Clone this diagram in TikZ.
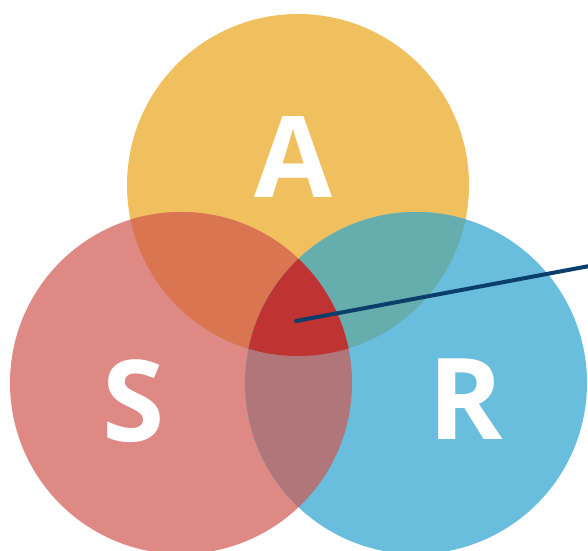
\documentclass[tikz,border=0pt]{standalone}
\usepackage{fontspec}
\setmainfont{Open Sans}
\definecolor{cA}{HTML}{EFC05D}
\definecolor{cS}{HTML}{DE8983}
\definecolor{cR}{HTML}{6ABEDD}
\definecolor{cAS}{HTML}{D97651}
\definecolor{cAR}{HTML}{66ADAE}
\definecolor{cSR}{HTML}{B07679}
\definecolor{cASR}{HTML}{C03333}
\definecolor{navy}{HTML}{0A3F6B}
\tikzset{
  letter/.style={text=white, anchor=base, inner sep=0pt, font=\bfseries\fontsize{113}{113}\selectfont},
  pointer/.style={draw=navy, line width=4pt, line cap=round}
}
\begin{document}
\begin{tikzpicture}[x=1pt,y=-1pt]
\useasboundingbox (0,0) rectangle (588,550);
\clip (0,0) rectangle (588,550);
\def\pA{(298,185) circle [radius=171pt]}
\def\pS{(181,383) circle [radius=171pt]}
\def\pR{(416,383) circle [radius=171pt]}
\fill[cA] \pA;
\fill[cS] \pS;
\fill[cR] \pR;
\begin{scope}\clip \pA; \fill[cAS] \pS; \fill[cAR] \pR; \end{scope}
\begin{scope}\clip \pS; \fill[cSR] \pR; \end{scope}
\begin{scope}\clip \pA; \clip \pS; \fill[cASR] \pR; \end{scope}
\node[letter] (la) at (293,197) {A};
\node[letter] (ls) at (133.5,441) {S};
\node[letter] (lr) at (465.5,439.5) {R};
\coordinate (p) at (296,321);
\coordinate (q) at (592,265.5);
\draw[pointer] (p) -- (q);
\end{tikzpicture}
\end{document}
